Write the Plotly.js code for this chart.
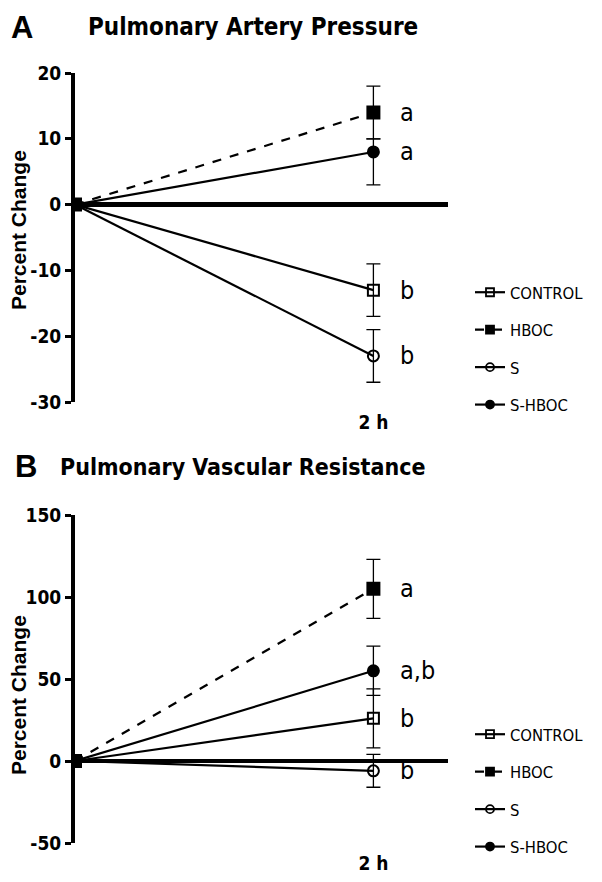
<!DOCTYPE html>
<html>
<head>
<meta charset="utf-8">
<script src="https://cdn.plot.ly/plotly-3.0.1.min.js"></script>
<style>html,body{margin:0;padding:0;background:#fff;}#chart{width:602px;height:882px;}</style>
</head>
<body>
<div id="chart"></div>
<script>
// ---- data ----
var timePoints = [0, 2];
var timeTickVals = [2];
var timeTickText = ["2 h"];
var groups = ["CONTROL", "HBOC", "S", "S-HBOC"];

// Panel A: Pulmonary Artery Pressure (percent change)
var papControl = [0, -13];
var papHBOC = [0, 14];
var papS = [0, -23];
var papSHBOC = [0, 8];
var papControlErrPlus = [0, 4], papControlErrMinus = [0, 4];
var papHBOCErrPlus = [0, 4], papHBOCErrMinus = [0, 4];
var papSErrPlus = [0, 4], papSErrMinus = [0, 4];
var papSHBOCErrPlus = [0, 2], papSHBOCErrMinus = [0, 5];
var papLetters = ["b", "a", "b", "a"];

// Panel B: Pulmonary Vascular Resistance (percent change)
var pvrControl = [0, 26];
var pvrHBOC = [0, 105];
var pvrS = [0, -6];
var pvrSHBOC = [0, 55];
var pvrControlErr = [0, 18];
var pvrHBOCErr = [0, 18];
var pvrSErr = [0, 10];
var pvrSHBOCErr = [0, 15];
var pvrLetters = ["b", "a", "b", "a,b"];

var yTicksA = [-30, -20, -10, 0, 10, 20];
var yTickTextA = ["-30", "-20", "-10", "0", "10", "20"];
var yTicksB = [-50, 0, 50, 100, 150];
var yTickTextB = ["-50", "0", "50", "100", "150"];

// ---- styling ----
var narrow = "'Liberation Sans Narrow', 'Arial Narrow', 'DejaVu Sans Condensed', sans-serif";
var arial = "'Liberation Sans', Arial, sans-serif";
var styles = {
  "CONTROL": {symbol: "square-open", dash: "solid", size: 11, rank: 1},
  "HBOC": {symbol: "square", dash: "dash", size: 12, rank: 2},
  "S": {symbol: "circle-open", dash: "solid", size: 11, rank: 3},
  "S-HBOC": {symbol: "circle", dash: "solid", size: 11, rank: 4}
};

function mk(name, y, plus, minus, xa, ya) {
  var st = styles[name];
  return {
    x: timePoints, y: y, name: name, type: "scatter", mode: "lines+markers",
    xaxis: xa, yaxis: ya, showlegend: false,
    line: {color: "black", width: 2.2, dash: st.dash},
    marker: {symbol: st.symbol, size: st.size, color: "black", line: {color: "black", width: 2}},
    error_y: {type: "data", symmetric: false, array: plus, arrayminus: minus, color: "black", thickness: 1.3, width: 7}
  };
}
function legItem(name, xa, ya, legend) {
  var st = styles[name];
  return {
    x: [null], y: [null], name: name, type: "scatter", mode: "lines+markers",
    xaxis: xa, yaxis: ya, legend: legend, legendrank: st.rank, legendgroup: legend + name,
    line: {color: "black", width: 2.2, dash: st.dash},
    marker: {symbol: st.symbol, size: 8, color: "black", line: {color: "black", width: 1.8}}
  };
}

var traces = [
  mk("CONTROL", papControl, papControlErrPlus, papControlErrMinus, "x", "y"),
  mk("S", papS, papSErrPlus, papSErrMinus, "x", "y"),
  mk("S-HBOC", papSHBOC, papSHBOCErrPlus, papSHBOCErrMinus, "x", "y"),
  mk("HBOC", papHBOC, papHBOCErrPlus, papHBOCErrMinus, "x", "y"),
  mk("CONTROL", pvrControl, pvrControlErr, pvrControlErr, "x2", "y2"),
  mk("S", pvrS, pvrSErr, pvrSErr, "x2", "y2"),
  mk("S-HBOC", pvrSHBOC, pvrSHBOCErr, pvrSHBOCErr, "x2", "y2"),
  mk("HBOC", pvrHBOC, pvrHBOCErr, pvrHBOCErr, "x2", "y2")
];
groups.forEach(function (g) { traces.push(legItem(g, "x", "y", "legend")); });
groups.forEach(function (g) { traces.push(legItem(g, "x2", "y2", "legend2")); });

var H = 882, W = 602;
function fy(px) { return 1 - px / H; }

function yax(range, ticks, text, top, bottom, xanchor) {
  return {
    domain: [fy(bottom), fy(top)], range: range, anchor: xanchor,
    tickvals: ticks, ticktext: text, ticks: "outside", ticklen: 6, tickwidth: 3, tickcolor: "black",
    showline: true, linewidth: 4, linecolor: "black", showgrid: false,
    zeroline: true, zerolinewidth: 4.5, zerolinecolor: "black",
    tickfont: {family: narrow, size: 19, color: "black", weight: "bold"},
    fixedrange: true
  };
}
function xax(yanchor) {
  return {
    domain: [75 / W, 448 / W], range: [0, 2.5], anchor: yanchor,
    tickvals: timeTickVals, ticktext: timeTickText, ticks: "", showline: false,
    showgrid: false, zeroline: false,
    tickfont: {family: narrow, size: 19, color: "black", weight: "bold"},
    ticklabelstandoff: 7, fixedrange: true
  };
}

var annotations = [];
function letters(arr, vals, xa, ya) {
  for (var i = 0; i < groups.length; i++) {
    annotations.push({
      x: timePoints[1], y: vals[i][1], xref: xa, yref: ya, text: arr[i], showarrow: false,
      xanchor: "left", xshift: 25, font: {family: narrow, size: 25, color: "black"}
    });
  }
}
letters(papLetters, [papControl, papHBOC, papS, papSHBOC], "x", "y");
letters(pvrLetters, [pvrControl, pvrHBOC, pvrS, pvrSHBOC], "x2", "y2");

annotations.push({xref: "paper", yref: "paper", x: 9 / W, y: fy(27), xanchor: "left", yanchor: "middle", showarrow: false,
  text: "A", font: {family: arial, size: 31, color: "black", weight: "bold"}});
annotations.push({xref: "paper", yref: "paper", x: 86 / W, y: fy(27), xanchor: "left", yanchor: "middle", showarrow: false,
  text: "Pulmonary Artery Pressure", font: {family: narrow, size: 24, color: "black", weight: "bold"}});
annotations.push({xref: "paper", yref: "paper", x: 13 / W, y: fy(467), xanchor: "left", yanchor: "middle", showarrow: false,
  text: "B", font: {family: arial, size: 31, color: "black", weight: "bold"}});
annotations.push({xref: "paper", yref: "paper", x: 58 / W, y: fy(467), xanchor: "left", yanchor: "middle", showarrow: false,
  text: "Pulmonary Vascular Resistance", font: {family: narrow, size: 23, color: "black", weight: "bold"}});
// y-axis titles
annotations.push({xref: "paper", yref: "paper", x: 18 / W, y: fy(230), xanchor: "center", yanchor: "middle", showarrow: false,
  textangle: -90, text: "Percent Change", font: {family: arial, size: 21, color: "black", weight: "bold"}});
annotations.push({xref: "paper", yref: "paper", x: 18 / W, y: fy(695), xanchor: "center", yanchor: "middle", showarrow: false,
  textangle: -90, text: "Percent Change", font: {family: arial, size: 21, color: "black", weight: "bold"}});

function leg(topPx) {
  return {
    x: 470 / W, y: fy(topPx), xanchor: "left", yanchor: "top", traceorder: "grouped",
    tracegroupgap: 13, font: {family: narrow, size: 16.5, color: "black"},
    bgcolor: "rgba(0,0,0,0)", itemclick: false, itemdoubleclick: false
  };
}

var layout = {
  width: W, height: H, margin: {l: 0, r: 0, t: 0, b: 0},
  paper_bgcolor: "white", plot_bgcolor: "white", showlegend: true,
  xaxis: xax("y"), yaxis: yax([-30, 20], yTicksA, yTickTextA, 73, 402, "x"),
  xaxis2: xax("y2"), yaxis2: yax([-50, 150], yTicksB, yTickTextB, 515, 843, "x2"),
  legend: leg(275), legend2: leg(717),
  annotations: annotations
};

Plotly.newPlot("chart", traces, layout, {displayModeBar: false, staticPlot: true});
</script>
</body>
</html>
